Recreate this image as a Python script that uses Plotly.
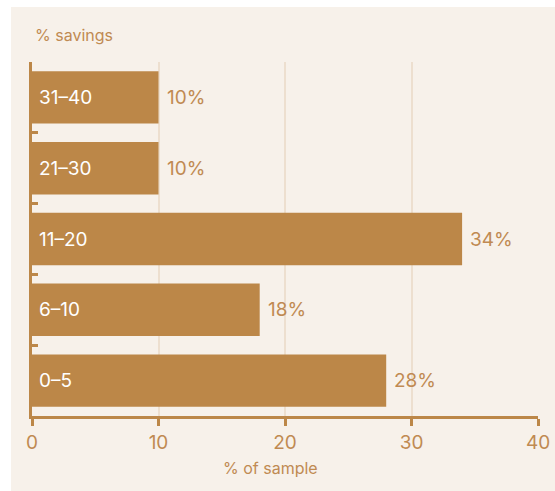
import plotly.graph_objects as go

categories = ["0–5", "6–10", "11–20", "21–30", "31–40"]
values = [28, 18, 34, 10, 10]
value_labels = ["28%", "18%", "34%", "10%", "10%"]
x_ticks = [0, 10, 20, 30, 40]

BAR = "#bc8748"
TXT = "#c08a52"
BG = "#f7f1ea"
GRID = "#eddfcf"
FONT = "Inter, Roboto, sans-serif"

fig = go.Figure()
fig.add_trace(go.Bar(
    x=values, y=categories, orientation="h",
    marker=dict(color=BAR, line=dict(width=0)),
    hoverinfo="skip",
))

annotations = []
for c, v, lab in zip(categories, values, value_labels):
    annotations.append(dict(x=0, y=c, xref="x", yref="y", text=c, showarrow=False,
                            xanchor="left", xshift=5, font=dict(color="white", size=19, family=FONT)))
    annotations.append(dict(x=v, y=c, xref="x", yref="y", text=lab, showarrow=False,
                            xanchor="left", xshift=6, font=dict(color=TXT, size=19, family=FONT)))

annotations.append(dict(x=0.472, y=-0.148, xref="paper", yref="paper", text="% of sample",
                        showarrow=False, xanchor="center", yanchor="middle",
                        font=dict(color=TXT, size=16, family=FONT)))

L, R, T, B = 32, 25, 62, 75
W, H = 563, 491
pw, ph = W - L - R, H - T - B
fig.add_shape(type="rect", xref="paper", yref="paper", layer="below",
              x0=(11 - L) / pw, x1=(W + 20 - L) / pw,
              y0=((H - B) - H) / ph, y1=((H - B) - 7) / ph,
              fillcolor=BG, line=dict(width=0))

fig.update_layout(
    width=W, height=H, autosize=False,
    margin=dict(l=L, r=R, t=T, b=B),
    paper_bgcolor="white", plot_bgcolor="rgba(0,0,0,0)",
    bargap=0.26, showlegend=False,
    title=dict(text="% savings", x=35 / W, xanchor="left", y=1 - 35 / H, yanchor="middle",
               font=dict(color=TXT, size=16, family=FONT)),
    font=dict(family=FONT, color=TXT),
    annotations=annotations,
    xaxis=dict(range=[0, 40], tickvals=x_ticks, showgrid=True, gridcolor=GRID, gridwidth=2,
               zeroline=False, showline=True, linecolor=BAR, linewidth=2.5,
               ticks="outside", ticklen=7, tickwidth=2.5, tickcolor=BAR,
               tickfont=dict(size=19, color=TXT, family=FONT)),
    yaxis=dict(type="category", categoryorder="array", categoryarray=categories,
               showgrid=False, zeroline=False, showline=True, linecolor=BAR, linewidth=2.5,
               ticks="inside", tickson="boundaries", ticklen=6, tickwidth=2.5, tickcolor=BAR,
               showticklabels=False),
)

post = ("document.body.style.margin='0';document.body.style.overflow='hidden';"
        "document.body.style.background='" + BG + "';")
fig.write_html("out.html", config={"displayModeBar": False, "responsive": False},
               post_script=post)
